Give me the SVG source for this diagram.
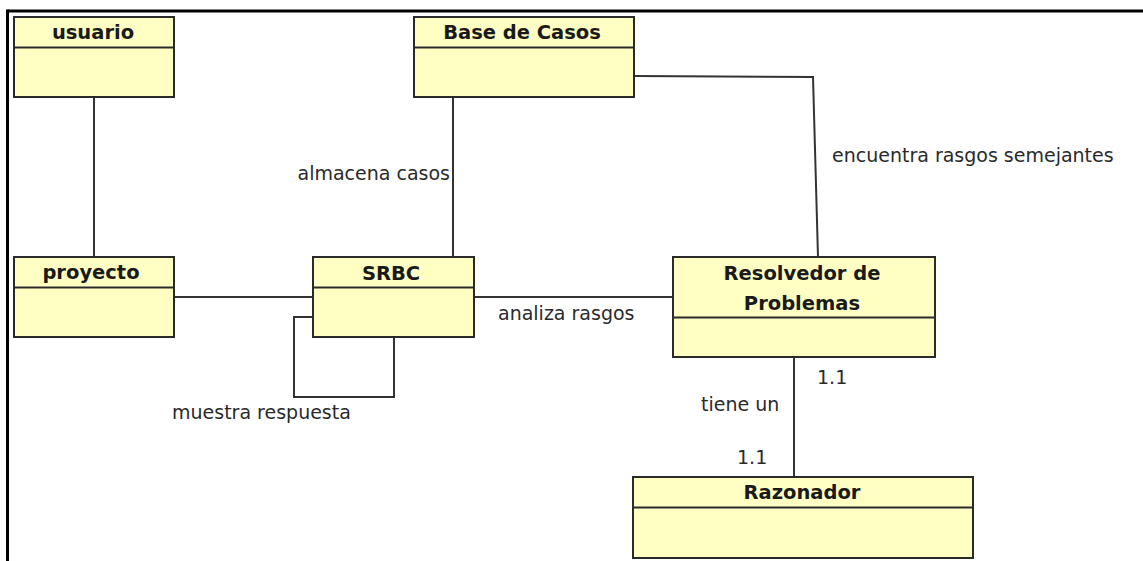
<svg xmlns="http://www.w3.org/2000/svg" width="1143" height="561" viewBox="0 0 1143 561">
<style>
.box{fill:#ffffc4;stroke:#2a2a2a;stroke-width:2}
.div{stroke:#2a2a2a;stroke-width:2}
.hdr{font-family:"DejaVu Sans",sans-serif;font-weight:bold;font-size:19.5px;fill:#1a1a1a;text-anchor:middle}
.lbl{font-family:"DejaVu Sans",sans-serif;font-size:19px;fill:#2a2a2a}
.con{fill:none;stroke:#333;stroke-width:2}
</style>
<rect width="1143" height="561" fill="#fff"/>
<g id="frame">
<line x1="7.5" y1="11" x2="1143" y2="11" stroke="#000" stroke-width="3"/>
<line x1="7.5" y1="9.5" x2="7.5" y2="561" stroke="#000" stroke-width="3"/>
</g>
<g id="connectors">
<line class="con" x1="94" y1="97" x2="94" y2="257"/>
<line class="con" x1="453" y1="97" x2="453" y2="257"/>
<polyline class="con" points="634,76 813,77 818,257"/>
<line class="con" x1="174" y1="297" x2="313" y2="297"/>
<line class="con" x1="474" y1="297" x2="673" y2="297"/>
<polyline class="con" points="313,317 294,317 294,397 394,397 394,337"/>
<line class="con" x1="794" y1="357" x2="794" y2="477"/>
<text class="lbl" x="450" y="180" text-anchor="end">almacena casos</text>
<text class="lbl" x="832" y="162">encuentra rasgos semejantes</text>
<text class="lbl" x="498" y="320">analiza rasgos</text>
<text class="lbl" x="172" y="419">muestra respuesta</text>
<text class="lbl" x="817" y="384">1.1</text>
<text class="lbl" x="701" y="411">tiene un</text>
<text class="lbl" x="737" y="464">1.1</text>
</g>
<g id="usuario">
<rect class="box" x="14" y="17" width="160" height="80"/>
<line class="div" x1="14" y1="47.5" x2="174" y2="47.5"/>
<text class="hdr" x="93" y="39">usuario</text>
</g>
<g id="base-de-casos">
<rect class="box" x="414" y="17" width="220" height="80"/>
<line class="div" x1="414" y1="47.5" x2="634" y2="47.5"/>
<text class="hdr" x="522" y="39">Base de Casos</text>
</g>
<g id="proyecto">
<rect class="box" x="14" y="257" width="160" height="80"/>
<line class="div" x1="14" y1="287.5" x2="174" y2="287.5"/>
<text class="hdr" x="91" y="279">proyecto</text>
</g>
<g id="srbc">
<rect class="box" x="313" y="257" width="161" height="80"/>
<line class="div" x1="313" y1="287.5" x2="474" y2="287.5"/>
<text class="hdr" x="391" y="280">SRBC</text>
</g>
<g id="resolvedor">
<rect class="box" x="673" y="257" width="262" height="100"/>
<line class="div" x1="673" y1="317.5" x2="935" y2="317.5"/>
<text class="hdr" x="802" y="280">Resolvedor de</text>
<text class="hdr" x="802" y="310">Problemas</text>
</g>
<g id="razonador">
<rect class="box" x="633" y="477" width="340" height="81"/>
<line class="div" x1="633" y1="507.5" x2="973" y2="507.5"/>
<text class="hdr" x="802" y="499">Razonador</text>
</g>
</svg>
